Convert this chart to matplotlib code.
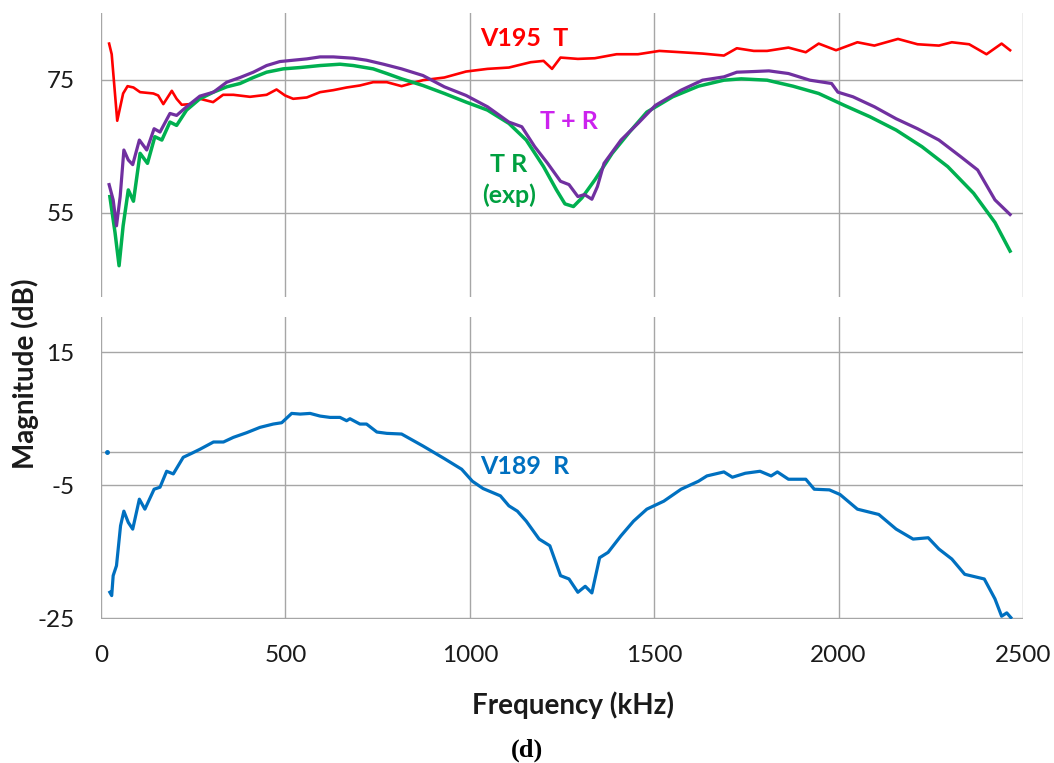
import matplotlib
matplotlib.use("Agg")
import matplotlib.pyplot as plt

# ---------------- data ----------------
x_ticks = [0, 500, 1000, 1500, 2000, 2500]
top_yticks = [55, 75]
bot_yticks = [15, -5, -25]

# V195 T (red)
x_red = [22, 29, 44, 60, 72, 88, 106, 124, 142, 155, 169, 192, 205, 219, 241, 268, 304, 331,
         359, 404, 449, 476, 499, 521, 558, 594, 630, 666, 702, 738, 775, 815, 873, 931, 990,
         1048, 1106, 1165, 1200, 1223, 1246, 1293, 1339, 1398, 1456, 1514, 1573, 1631, 1689,
         1724, 1770, 1806, 1864, 1911, 1946, 1993, 2051, 2097, 2161, 2214, 2272, 2307, 2354,
         2401, 2442, 2465]
y_red = [80.4, 78.8, 68.8, 72.9, 74.0, 73.8, 73.1, 73.0, 72.9, 72.6, 71.3, 73.3, 72.1, 71.2,
         71.3, 72.1, 71.6, 72.7, 72.7, 72.4, 72.7, 73.5, 72.6, 72.1, 72.3, 73.1, 73.4, 73.8,
         74.1, 74.6, 74.6, 74.0, 74.9, 75.3, 76.2, 76.6, 76.8, 77.6, 77.8, 76.6, 78.3, 78.1,
         78.2, 78.8, 78.8, 79.3, 79.1, 78.9, 78.6, 79.7, 79.3, 79.3, 79.8, 79.1, 80.4, 79.4,
         80.6, 80.1, 81.1, 80.3, 80.1, 80.6, 80.3, 78.8, 80.4, 79.4]

# T + R (purple)
x_pur = [22, 33, 42, 52, 62, 74, 86, 104, 124, 144, 160, 187, 205, 232, 268, 305, 341, 377,
         413, 449, 485, 521, 558, 594, 630, 684, 720, 766, 815, 873, 931, 990, 1048, 1106,
         1141, 1176, 1211, 1246, 1269, 1293, 1311, 1331, 1346, 1364, 1410, 1456, 1503, 1573,
         1631, 1689, 1724, 1770, 1811, 1864, 1922, 1981, 1998, 2039, 2097, 2156, 2214, 2272,
         2331, 2377, 2424, 2465]
y_pur = [59.2, 56.9, 53.0, 57.4, 64.4, 62.9, 62.2, 65.9, 64.4, 67.6, 67.1, 69.9, 69.6, 70.9,
         72.5, 73.1, 74.6, 75.3, 76.1, 77.1, 77.7, 77.9, 78.1, 78.4, 78.4, 78.2, 77.9, 77.3,
         76.6, 75.6, 73.9, 72.6, 70.9, 68.6, 67.9, 64.9, 62.4, 59.7, 59.2, 57.4, 57.7, 57.0,
         58.9, 62.4, 65.9, 68.4, 71.1, 73.4, 74.9, 75.4, 76.1, 76.2, 76.3, 75.9, 74.9, 74.4,
         73.1, 72.4, 70.9, 69.1, 67.6, 65.9, 63.4, 61.4, 56.9, 54.7]

# T R (exp) (green)
x_grn = [24, 38, 49, 60, 74, 88, 106, 126, 146, 165, 187, 205, 232, 268, 305, 341, 377, 413,
         449, 494, 540, 594, 648, 684, 738, 775, 815, 873, 931, 990, 1048, 1106, 1153, 1200,
         1235, 1258, 1281, 1304, 1339, 1386, 1433, 1480, 1550, 1620, 1689, 1736, 1806, 1876,
         1946, 2016, 2085, 2156, 2226, 2296, 2366, 2424, 2465]
y_grn = [57.4, 52.0, 47.0, 53.0, 58.4, 56.7, 63.9, 62.4, 66.4, 65.9, 68.6, 68.1, 70.4, 72.1,
         73.1, 73.9, 74.4, 75.3, 76.1, 76.6, 76.8, 77.1, 77.3, 77.1, 76.6, 75.9, 75.1, 74.1,
         72.9, 71.6, 70.4, 68.4, 65.9, 61.9, 58.4, 56.3, 55.9, 57.2, 59.9, 63.9, 67.1, 70.1,
         72.4, 74.0, 74.9, 75.1, 74.9, 74.0, 72.9, 71.1, 69.4, 67.4, 64.9, 61.9, 57.9, 53.5,
         49.2]

# V189 R (blue)
x_blu = [24, 29, 33, 42, 53, 62, 74, 86, 104, 119, 144, 160, 178, 196, 223, 246, 268, 305,
         332, 359, 395, 431, 467, 490, 517, 540, 567, 594, 621, 648, 666, 675, 702, 720, 748,
         775, 815, 873, 931, 978, 1007, 1036, 1083, 1106, 1129, 1153, 1188, 1217, 1246, 1269,
         1293, 1313, 1331, 1352, 1375, 1410, 1444, 1480, 1526, 1573, 1620, 1643, 1689, 1712,
         1747, 1787, 1817, 1834, 1864, 1911, 1934, 1975, 2004, 2051, 2109, 2156, 2202, 2243,
         2272, 2307, 2342, 2395, 2424, 2442, 2456, 2467]
y_blu = [-21.1, -21.6, -18.6, -17.1, -11.1, -8.9, -10.6, -11.6, -7.1, -8.6, -5.6, -5.3, -2.9,
         -3.3, -0.8, -0.2, 0.4, 1.5, 1.5, 2.2, 2.9, 3.7, 4.2, 4.4, 5.8, 5.7, 5.8, 5.4, 5.2, 5.2,
         4.7, 5.0, 4.2, 4.2, 3.0, 2.8, 2.7, 0.9, -1.0, -2.6, -4.4, -5.5, -6.6, -8.1, -8.9,
         -10.4, -13.1, -14.1, -18.6, -19.1, -21.1, -20.2, -21.2, -15.9, -15.1, -12.6, -10.4,
         -8.6, -7.4, -5.6, -4.4, -3.6, -3.0, -3.8, -3.2, -2.9, -3.6, -3.0, -4.1, -4.1, -5.6,
         -5.7, -6.4, -8.6, -9.4, -11.6, -13.1, -12.9, -14.6, -16.1, -18.4, -19.1, -22.1,
         -24.7, -24.2, -24.9]

# isolated blue point at the left of the lower panel
x_dot = [16]
y_dot = [0]

# ---------------- styling ----------------
plt.rcParams['font.family'] = ['Lato', 'DejaVu Sans']
plt.rcParams['axes.unicode_minus'] = False
GRID = '#a6a6a6'
C_RED, C_PUR, C_GRN, C_BLU = '#ff0000', '#7030a0', '#00b050', '#0070c0'

fig = plt.figure(figsize=(10.54, 7.63), dpi=100)
L, W = 101 / 1054, 922 / 1054
ax1 = fig.add_axes([L, 1 - 297 / 763, W, (297 - 13) / 763])
ax2 = fig.add_axes([L, 1 - 619 / 763, W, (619 - 317) / 763])

for ax in (ax1, ax2):
    ax.set_xlim(0, 2500)
    ax.set_xticks(x_ticks)
    for s in ax.spines.values():
        s.set_visible(False)
    ax.grid(True, color=GRID, lw=1.0)
    ax.tick_params(length=0, labelsize=17.5, colors='#1a1a1a', pad=19)
    ax.set_axisbelow(True)

# top panel
ax1.set_ylim(42.3, 85.0)
ax1.set_yticks(top_yticks)
ax1.tick_params(axis='x', labelbottom=False)
ax1.plot(x_red, y_red, color=C_RED, lw=1.9, solid_joinstyle='round')
ax1.plot(x_grn, y_grn, color=C_GRN, lw=2.5, solid_joinstyle='round')
ax1.plot(x_pur, y_pur, color=C_PUR, lw=2.3, solid_joinstyle='round')

ax1.text(1028, 81.1, 'V195  T', color=C_RED, fontsize=18, fontweight='bold',
         ha='left', va='center')
ax1.text(1190, 68.7, 'T + R', color='#cc22ee', fontsize=18, fontweight='bold',
         ha='left', va='center')
ax1.text(1106, 59.9, 'T R\n(exp)', color='#00a040', fontsize=18, fontweight='bold',
         ha='center', va='center', multialignment='center', linespacing=1.35)

# bottom panel
ax2.set_ylim(-25.12, 20.3)
ax2.set_yticks(bot_yticks)
ax2.axhline(0, color=GRID, lw=1.0, zorder=0.5)
ax2.plot(x_blu, y_blu, color=C_BLU, lw=2.3, solid_joinstyle='round')
ax2.plot(x_dot, y_dot, 'o', color=C_BLU, ms=2.5)
ax2.text(1028, -2.19, 'V189  R', color=C_BLU, fontsize=18, fontweight='bold',
         ha='left', va='center')

# axis labels and caption
fig.text(25 / 1054, 1 - 374 / 763, 'Magnitude (dB)', rotation=90, fontsize=20,
         fontweight='bold', ha='center', va='center', color='#1a1a1a')
fig.text(573 / 1054, 1 - 705 / 763, 'Frequency (kHz)', fontsize=20,
         fontweight='bold', ha='center', va='center', color='#1a1a1a')
fig.text(527 / 1054, 1 - 750 / 763, '(d)', fontsize=19, fontweight='bold',
         family=['Liberation Serif', 'DejaVu Serif'], ha='center', va='center')

fig.savefig('out.png', dpi=100)
